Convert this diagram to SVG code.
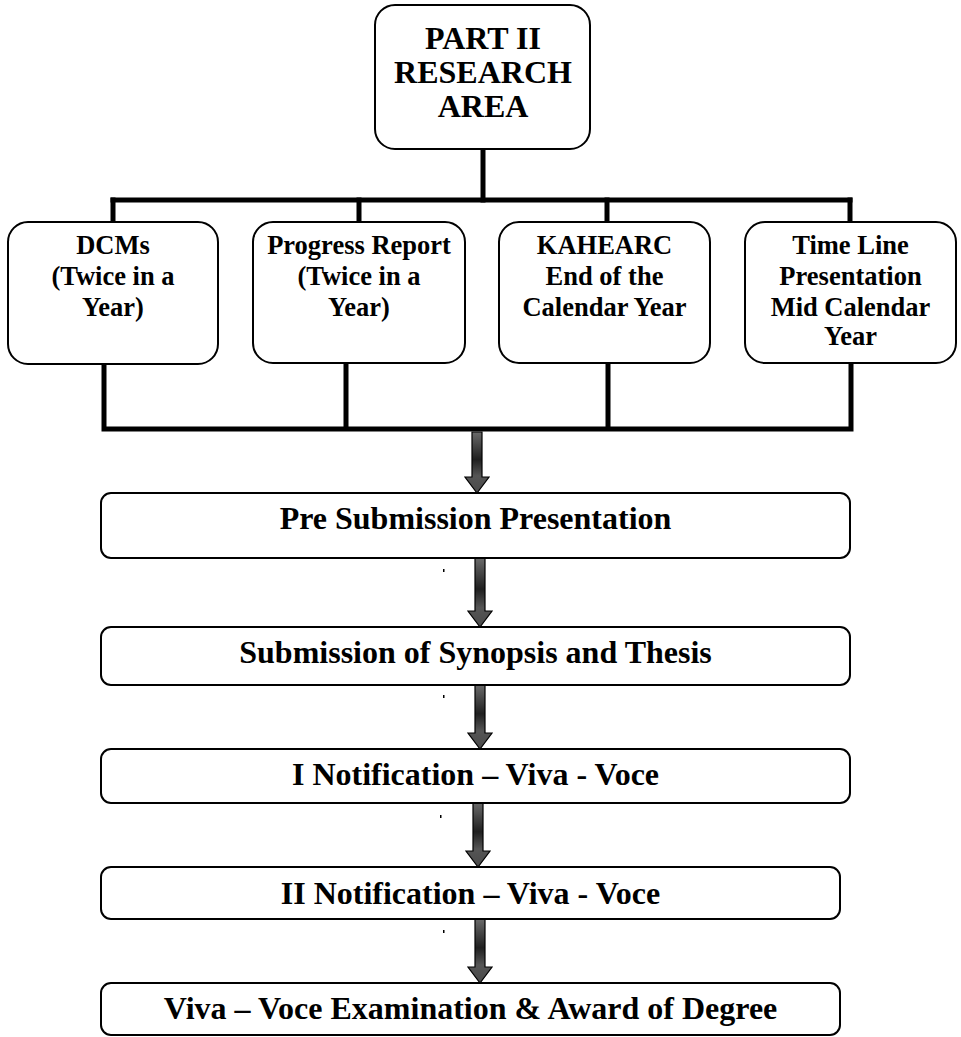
<svg xmlns="http://www.w3.org/2000/svg" width="961" height="1037" viewBox="0 0 961 1037">
<defs>
<linearGradient id="arrGrad" x1="0" y1="0" x2="0" y2="1">
<stop offset="0" stop-color="#6a6a6a"/>
<stop offset="0.45" stop-color="#1f1f1f"/>
<stop offset="0.72" stop-color="#555"/>
<stop offset="1" stop-color="#4a4a4a"/>
</linearGradient>
<style>
.box{fill:#fff;stroke:#000;stroke-width:2}
.t{font-family:"Liberation Serif","Times New Roman",serif;font-weight:bold;fill:#000;text-anchor:middle}
.big{font-size:32px}
.sm{font-size:26.5px}
.wire{fill:none;stroke:#000;stroke-width:5;stroke-linecap:square}
.arrow{fill:url(#arrGrad);stroke:#000;stroke-width:1.2;stroke-linejoin:miter}
.dot{fill:#000}
</style>
</defs>
<rect width="961" height="1037" fill="#fff"/>
<g id="connectors">
<path class="wire" d="M483,149 V200"/>
<path class="wire" d="M113,200 H850"/>
<path class="wire" d="M113,200 V222 M359,200 V222 M607,200 V222 M850,200 V222"/>
<path class="wire" d="M104,364 V429 H851 M346,364 V429 M608,364 V429 M851,364 V429"/>
<path class="arrow" d="M472,432 H482 V477 H489 L477,493 L465,477 H472 Z"/>
<path class="arrow" d="M475,558 H485 V611 H492 L480,627 L468,611 H475 Z"/>
<path class="arrow" d="M475,685 H485 V733 H492 L480,749 L468,733 H475 Z"/>
<path class="arrow" d="M473,803 H483 V851 H490 L478,867 L466,851 H473 Z"/>
<path class="arrow" d="M475,919 H485 V967 H492 L480,983 L468,967 H475 Z"/>
</g>
<g id="marks">
<rect class="dot" x="443" y="569" width="1.5" height="3"/>
<rect class="dot" x="443" y="695" width="1.5" height="3"/>
<rect class="dot" x="440" y="815" width="1.5" height="3"/>
<rect class="dot" x="443" y="930" width="1.5" height="3"/>
</g>
<g id="node-part2">
<rect class="box" x="375" y="5" width="215" height="144" rx="20"/>
<text class="t big" x="483" y="49">PART II</text>
<text class="t big" x="483" y="83">RESEARCH</text>
<text class="t big" x="483" y="117">AREA</text>
</g>
<g id="node-dcms">
<rect class="box" x="8" y="222" width="210" height="142" rx="20"/>
<text class="t sm" x="113" y="254">DCMs</text>
<text class="t sm" x="113" y="285">(Twice in a</text>
<text class="t sm" x="113" y="316">Year)</text>
</g>
<g id="node-progress">
<rect class="box" x="253" y="222" width="212" height="141" rx="20"/>
<text class="t sm" x="359" y="254">Progress Report</text>
<text class="t sm" x="359" y="285">(Twice in a</text>
<text class="t sm" x="359" y="316">Year)</text>
</g>
<g id="node-kahearc">
<rect class="box" x="499" y="222" width="211" height="141" rx="20"/>
<text class="t sm" x="604.5" y="254">KAHEARC</text>
<text class="t sm" x="604.5" y="285">End of the</text>
<text class="t sm" x="604.5" y="316">Calendar Year</text>
</g>
<g id="node-timeline">
<rect class="box" x="745" y="222" width="211" height="141" rx="20"/>
<text class="t sm" x="850.5" y="254">Time Line</text>
<text class="t sm" x="850.5" y="285">Presentation</text>
<text class="t sm" x="850.5" y="316">Mid Calendar</text>
<text class="t sm" x="850.5" y="345">Year</text>
</g>
<g id="node-presub">
<rect class="box" x="101" y="493" width="749" height="65" rx="10"/>
<text class="t big" x="475.5" y="529">Pre Submission Presentation</text>
</g>
<g id="node-submission">
<rect class="box" x="101" y="627" width="749" height="58" rx="10"/>
<text class="t big" x="475.5" y="663">Submission of Synopsis and Thesis</text>
</g>
<g id="node-notif1">
<rect class="box" x="101" y="749" width="749" height="54" rx="10"/>
<text class="t big" x="475.5" y="785">I Notification – Viva - Voce</text>
</g>
<g id="node-notif2">
<rect class="box" x="101" y="867" width="739" height="52" rx="10"/>
<text class="t big" x="470.5" y="904">II Notification – Viva - Voce</text>
</g>
<g id="node-viva">
<rect class="box" x="101" y="983" width="739" height="52" rx="10"/>
<text class="t big" x="470.5" y="1019">Viva – Voce Examination &amp; Award of Degree</text>
</g>
</svg>
